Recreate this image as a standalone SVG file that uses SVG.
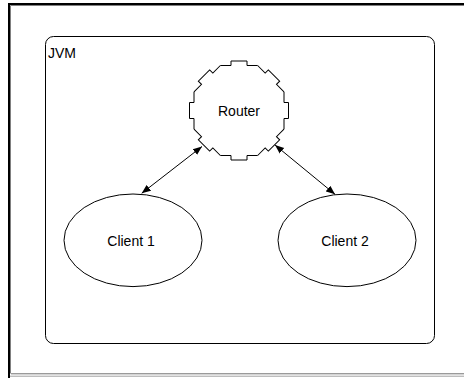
<svg xmlns="http://www.w3.org/2000/svg" xmlns:xlink="http://www.w3.org/1999/xlink" width="464" height="378" viewBox="0 0 464 378">
  <style>
    .label { font-family: "Liberation Sans", Arial, sans-serif; font-size: 14px; fill: #000; }
    .shape { fill: #fff; stroke: #000; stroke-width: 1; }
    .edge { stroke: #000; stroke-width: 1; fill: none; marker-start: url(#head); marker-end: url(#head); }
  </style>
  <defs>
    <marker id="head" viewBox="0 0 10 10" refX="10" refY="5" markerWidth="9" markerHeight="9" markerUnits="userSpaceOnUse" orient="auto-start-reverse">
      <path d="M0,1 L10,5 L0,9 z" fill="#000"/>
    </marker>
    <!-- one side of the router outline: an octagon edge with a small tab in the middle -->
    <path id="router-side" d="M45,-18.64 V-8 H49.5 V8 H45 V18.64" fill="none" stroke="#000" stroke-width="1"/>
  </defs>

  <rect width="464" height="378" fill="#fff"/>

  <!-- window frame -->
  <g id="frame" fill="none">
    <path d="M9,378 V4 H464" stroke="#000" stroke-width="2"/>
    <path d="M10.5,373.5 V5.5 H464" stroke="#808080" stroke-width="1"/>
    <path d="M11,373.8 H464" stroke="#707070" stroke-width="1"/>
    <path d="M10,376.2 H464" stroke="#a0a0a0" stroke-width="1"/>
  </g>

  <!-- JVM container -->
  <g id="jvm">
    <rect x="45.5" y="36.5" width="389" height="307" rx="8" ry="8" fill="#fff" stroke="#000" stroke-width="1"/>
    <text class="label" x="48" y="58" font-size="18">JVM</text>
  </g>

  <g id="connectors">
    <line class="edge" x1="202" y1="146.5" x2="141.7" y2="193.3"/>
    <line class="edge" x1="275" y1="145" x2="335" y2="194.3"/>
  </g>

  <g id="router" transform="translate(239,110.5)">
    <use xlink:href="#router-side" transform="rotate(0)"/>
    <use xlink:href="#router-side" transform="rotate(45)"/>
    <use xlink:href="#router-side" transform="rotate(90)"/>
    <use xlink:href="#router-side" transform="rotate(135)"/>
    <use xlink:href="#router-side" transform="rotate(180)"/>
    <use xlink:href="#router-side" transform="rotate(225)"/>
    <use xlink:href="#router-side" transform="rotate(270)"/>
    <use xlink:href="#router-side" transform="rotate(315)"/>
    <text class="label" x="0" y="5" text-anchor="middle">Router</text>
  </g>

  <g id="client1">
    <ellipse class="shape" cx="133" cy="240.3" rx="69" ry="46.3"/>
    <text class="label" x="131" y="245.5" text-anchor="middle">Client 1</text>
  </g>

  <g id="client2">
    <ellipse class="shape" cx="347" cy="240.3" rx="69" ry="46.3"/>
    <text class="label" x="345" y="245.5" text-anchor="middle">Client 2</text>
  </g>
</svg>
